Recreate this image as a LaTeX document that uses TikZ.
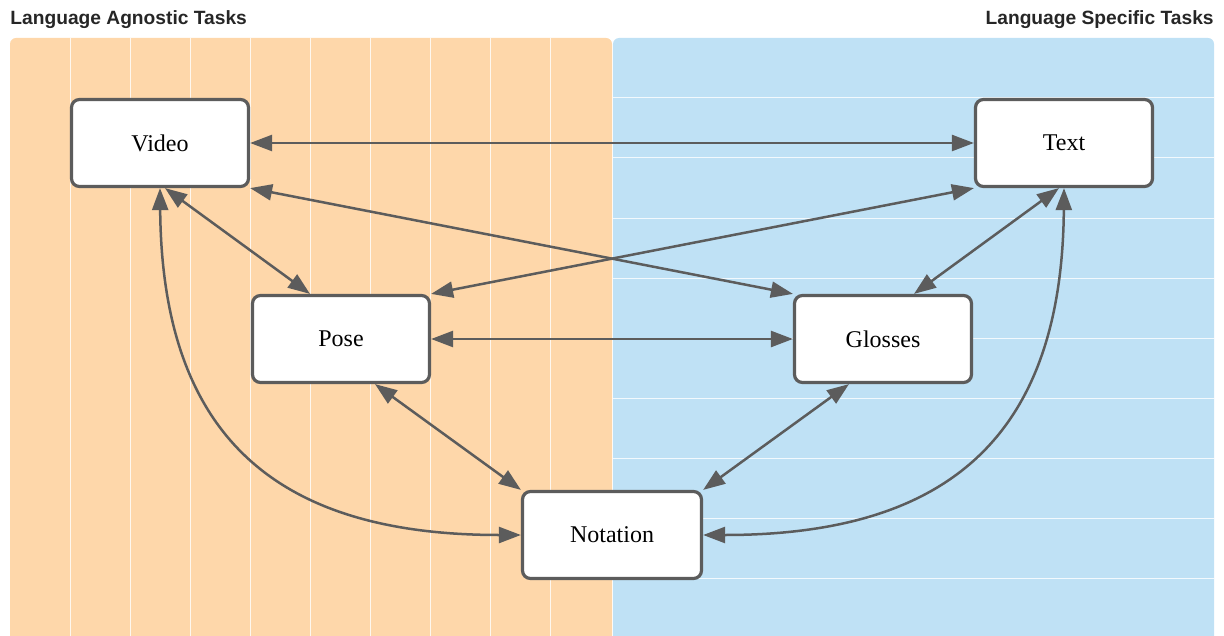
\documentclass[tikz,border=0pt]{standalone}
\usepackage{fontspec}
\setmainfont{Liberation Serif}
\newfontfamily\headfont{Liberation Sans}
\usetikzlibrary{arrows.meta}
\definecolor{agnostic}{RGB}{254,215,170}
\definecolor{specific}{RGB}{191,225,245}
\definecolor{edgegray}{RGB}{92,92,92}
\begin{document}
\begin{tikzpicture}[x=0.5pt,y=-0.5pt,
    task/.style={draw=edgegray,line width=1.6pt,fill=white,rounded corners=4pt,
      minimum width=88.5pt,minimum height=43.5pt,font=\fontsize{12}{14}\selectfont},
    link/.style={draw=edgegray,line width=1.25pt,
      {Triangle[length=11pt,width=8pt]}-{Triangle[length=11pt,width=8pt]}},
    heading/.style={font=\headfont\bfseries\fontsize{9.6}{11}\selectfont,text=black!85,inner sep=0pt}]
    \useasboundingbox (0,0) rectangle (1224,636);
    % Hintergrund der beiden Bereiche
    \begin{scope}
        \clip (0,0) rectangle (1224,636);
        \fill[agnostic,rounded corners=3pt] (10,38) rectangle (612,660);
        \fill[specific,rounded corners=3pt] (613,38) rectangle (1214,660);
        \foreach \gx in {70,130,...,550}
            \draw[white,line width=0.5pt,opacity=0.8] (\gx,38) -- (\gx,636);
        \foreach \gy in {98,158,...,578}
            \draw[white,line width=0.5pt,opacity=0.8] (613,\gy) -- (1214,\gy);
    \end{scope}
    \node[heading,anchor=base west] (agnostic) at (10,25) {Language Agnostic Tasks};
    \node[heading,anchor=base east] (specific) at (1214,25) {Language Specific Tasks};
    % Aufgaben
    \node[task] (video) at (160,143) {Video};
    \node[task] (text) at (1064,143) {Text};
    \node[task] (pose) at (341,339) {Pose};
    \node[task] (glosses) at (883,339) {Glosses};
    \node[task,minimum width=89.5pt] (notation) at (612,535) {Notation};
    % Verbindungen
    \draw[link] (video.east) -- (text.west);
    \draw[link] (pose.east) -- (glosses.west);
    \draw[link] (video.south east) -- (glosses.north west);
    \draw[link] (text.south west) -- (pose.north east);
    \draw[link] ([xshift=2.5pt]video.south) -- ([xshift=-15.5pt]pose.north);
    \draw[link] ([xshift=-2.5pt]text.south) -- ([xshift=15.5pt]glosses.north);
    \draw[link] ([xshift=17pt]pose.south) -- (notation.north west);
    \draw[link] ([xshift=-17pt]glosses.south) -- (notation.north east);
    \draw[link] (video.south) .. controls +(2,252) and +(-241,0) .. (notation.west);
    \draw[link] (text.south) .. controls +(-2,252) and +(241,0) .. (notation.east);
\end{tikzpicture}
\end{document}
